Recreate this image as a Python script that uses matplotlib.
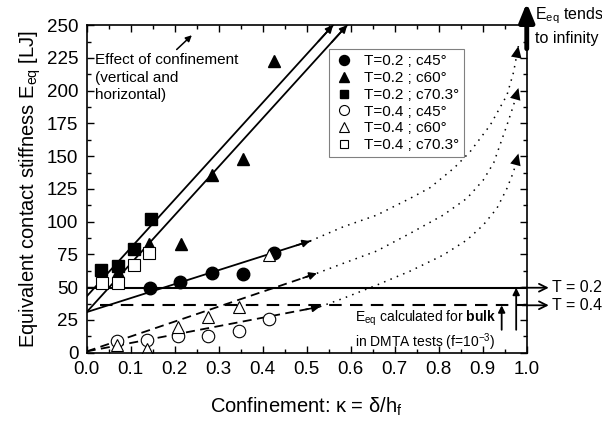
import matplotlib

matplotlib.use("Agg")
import matplotlib.pyplot as plt

plt.rcParams["font.family"] = ["Liberation Sans", "DejaVu Sans"]
plt.rcParams["mathtext.fontset"] = "custom"
plt.rcParams["mathtext.rm"] = "Liberation Sans"
plt.rcParams["mathtext.it"] = "Liberation Sans:italic"
plt.rcParams["mathtext.bf"] = "Liberation Sans:bold"

# ---- data ----
# T = 0.2 (filled)
t2_c45_x = [0.1445, 0.213, 0.284, 0.3545, 0.426]
t2_c45_y = [49.7, 53.6, 60.9, 60.1, 76.2]
t2_c60_x = [0.0705, 0.142, 0.214, 0.285, 0.356, 0.426]
t2_c60_y = [61.4, 82.6, 83.1, 135.5, 147.5, 222.5]
t2_c70_x = [0.0325, 0.072, 0.108, 0.146]
t2_c70_y = [63.2, 66.5, 79.3, 101.7]
# T = 0.4 (open)
t4_c45_x = [0.068, 0.137, 0.207, 0.276, 0.345, 0.414]
t4_c45_y = [9.2, 9.9, 13.0, 13.0, 16.8, 25.7]
t4_c60_x = [0.068, 0.137, 0.207, 0.275, 0.345, 0.414]
t4_c60_y = [6.1, 2.8, 19.6, 27.5, 34.6, 74.2]
t4_c70_x = [0.034, 0.072, 0.107, 0.142]
t4_c70_y = [53.0, 53.0, 67.3, 76.2]

# fitted lines (start, end)
fit_c70_x, fit_c70_y = [0.0, 0.56], [43.0, 250.0]
fit_c60_x, fit_c60_y = [0.0, 0.592], [31.0, 250.0]
fit_c45_x, fit_c45_y = [0.0, 0.5075], [31.0, 85.2]
fit4_c60_x, fit4_c60_y = [0.0, 0.523], [1.0, 60.6]
fit4_c45_x, fit4_c45_y = [0.0, 0.530], [1.0, 35.1]

# dotted extrapolations towards kappa -> 1
ext_a_x = [0.5075, 0.583, 0.659, 0.735, 0.78, 0.835, 0.871, 0.917, 0.955, 0.97, 0.981]
ext_a_y = [85.2, 96.1, 105.0, 117.8, 125.9, 141.0, 153.3, 173.7, 196.6, 214.0, 234.0]
ext_b_x = [0.523, 0.583, 0.659, 0.735, 0.81, 0.864, 0.901, 0.925, 0.955, 0.97, 0.981]
ext_b_y = [60.6, 68.2, 77.6, 91.1, 105.0, 117.8, 131.7, 145.0, 173.7, 188.9, 202.0]
ext_c_x = [0.530, 0.583, 0.659, 0.735, 0.81, 0.864, 0.901, 0.932, 0.955, 0.97, 0.981]
ext_c_y = [35.1, 41.5, 51.6, 62.3, 74.5, 86.0, 97.4, 110.1, 125.4, 138.1, 152.0]

# bulk DMTA values
bulk_t2 = 49.6
bulk_t4 = 36.2

fig = plt.figure(figsize=(6.02, 4.26), dpi=100)
ax = fig.add_axes([0.144, 0.172, 0.731, 0.769])


def arrow_line(xs, ys, ls):
    # fitted line ending in a small filled arrow head
    if ls == "--":
        ax.plot(xs, ys, color="black", lw=1.3, dashes=(5, 3))
    else:
        ax.plot(xs, ys, color="black", lw=1.3)
    dx, dy = xs[1] - xs[0], ys[1] - ys[0]
    ax.annotate("", xy=(xs[1], ys[1]), xytext=(xs[1] - 0.06 * dx, ys[1] - 0.06 * dy),
                arrowprops=dict(arrowstyle="-|>", color="black", lw=1.2,
                                mutation_scale=11, shrinkA=0, shrinkB=0),
                annotation_clip=False)


arrow_line(fit_c70_x, fit_c70_y, "-")
arrow_line(fit_c60_x, fit_c60_y, "-")
arrow_line(fit_c45_x, fit_c45_y, "-")
arrow_line(fit4_c60_x, fit4_c60_y, "--")
arrow_line(fit4_c45_x, fit4_c45_y, "--")

# dotted curves, each ending in a filled head
for xs, ys in [(ext_a_x, ext_a_y), (ext_b_x, ext_b_y), (ext_c_x, ext_c_y)]:
    ax.plot(xs, ys, color="black", lw=1.1, ls=(0, (1, 3.5)))
    ax.annotate("", xy=(xs[-1], ys[-1]), xytext=(xs[-2], ys[-2]),
                arrowprops=dict(arrowstyle="-|>,head_width=0.55,head_length=1.2",
                                color="black", lw=0, mutation_scale=7,
                                shrinkA=0, shrinkB=0))

# bulk horizontal lines
ax.plot([0.0, 1.0], [bulk_t2, bulk_t2], color="black", lw=1.5)
ax.plot([0.03, 1.0], [bulk_t4, bulk_t4], color="black", lw=1.5, dashes=(6, 4))
for yv, lab in [(bulk_t2, "T = 0.2"), (bulk_t4, "T = 0.4")]:
    ax.annotate("", xy=(1.05, yv), xytext=(0.99, yv),
                arrowprops=dict(arrowstyle="->", color="black", lw=1.3,
                                mutation_scale=14, shrinkA=0, shrinkB=0),
                annotation_clip=False)
    ax.text(1.057, yv, lab, fontsize=11.5, va="center", ha="left", clip_on=False)

# vertical arrows to bulk levels
ax.annotate("", xy=(0.976, bulk_t2), xytext=(0.976, 17.5),
            arrowprops=dict(arrowstyle="-|>", color="black", lw=1.3,
                            mutation_scale=10, shrinkA=0, shrinkB=0))
ax.annotate("", xy=(0.943, bulk_t4), xytext=(0.943, 17.5),
            arrowprops=dict(arrowstyle="-|>", color="black", lw=1.3,
                            mutation_scale=10, shrinkA=0, shrinkB=0))

# thick arrow: E_eq tends to infinity
ax.annotate("", xy=(1.0, 267), xytext=(1.0, 232),
            arrowprops=dict(arrowstyle="-|>,head_width=0.45,head_length=1.1", color="black",
                            lw=3.5, mutation_scale=10, shrinkA=0, shrinkB=0),
            annotation_clip=False)
ax.text(1.018, 257.5, r"E$_{\mathrm{eq}}$ tends", fontsize=11.5, va="center", ha="left",
        clip_on=False)
ax.text(1.018, 240, "to infinity", fontsize=11.5, va="center", ha="left", clip_on=False)

# effect of confinement
ax.annotate("", xy=(0.239, 242.3), xytext=(0.2045, 231.4),
            arrowprops=dict(arrowstyle="-|>", color="black", lw=1.1,
                            mutation_scale=9, shrinkA=0, shrinkB=0))
ax.text(0.018, 210, "Effect of confinement\n(vertical and\nhorizontal)", fontsize=11,
        va="center", ha="left", linespacing=1.3)

# bulk note
ax.text(0.61, 26.5, r"E$_{\mathrm{eq}}$ calculated for $\mathbf{bulk}$", fontsize=10,
        ha="left", va="center")
ax.text(0.61, 8, r"in DMTA tests (f=10$^{-3}$)", fontsize=10, ha="left", va="center")

# markers
ms = 9
ax.plot(t2_c45_x, t2_c45_y, "o", color="black", ms=ms, ls="none", label="T=0.2 ; c45°")
ax.plot(t2_c60_x, t2_c60_y, "^", color="black", ms=ms, ls="none", label="T=0.2 ; c60°")
ax.plot(t2_c70_x, t2_c70_y, "s", color="black", ms=ms - 1, ls="none", label="T=0.2 ; c70.3°")
ax.plot(t4_c45_x, t4_c45_y, "o", mfc="white", mec="black", mew=0.8, ms=ms, ls="none",
        label="T=0.4 ; c45°")
ax.plot(t4_c60_x, t4_c60_y, "^", mfc="white", mec="black", mew=0.8, ms=ms, ls="none",
        label="T=0.4 ; c60°")
ax.plot(t4_c70_x, t4_c70_y, "s", mfc="white", mec="black", mew=0.8, ms=ms - 1, ls="none",
        label="T=0.4 ; c70.3°")

leg = ax.legend(loc="upper left", bbox_to_anchor=(0.551, 0.927), borderaxespad=0,
                fontsize=11, frameon=True, fancybox=False, edgecolor="#808080",
                framealpha=1, handletextpad=0.6, labelspacing=0.18, borderpad=0.35,
                handlelength=1.3, markerscale=0.8)
leg.get_frame().set_linewidth(0.8)

ax.set_xlim(0.0, 1.0)
ax.set_ylim(0, 250)
ax.set_xticks([i / 10 for i in range(11)])
ax.set_xticks([i / 20 for i in range(21)], minor=True)
ax.set_yticks(range(0, 251, 25))
ax.set_yticks([i * 12.5 for i in range(21)], minor=True)
ax.tick_params(which="both", direction="in", top=True, right=True, labelsize=13.5, pad=6)
ax.tick_params(which="major", length=5, width=1)
ax.tick_params(which="minor", length=3, width=1)
for s in ax.spines.values():
    s.set_linewidth(1.2)

ax.set_xlabel("Confinement: κ = δ/h$_{\\mathrm{f}}$", fontsize=14.5, labelpad=13)
ax.set_ylabel(r"Equivalent contact stiffness E$_{\mathrm{eq}}$ [LJ]", fontsize=14.5, labelpad=3)

fig.savefig("out.png", dpi=100)
